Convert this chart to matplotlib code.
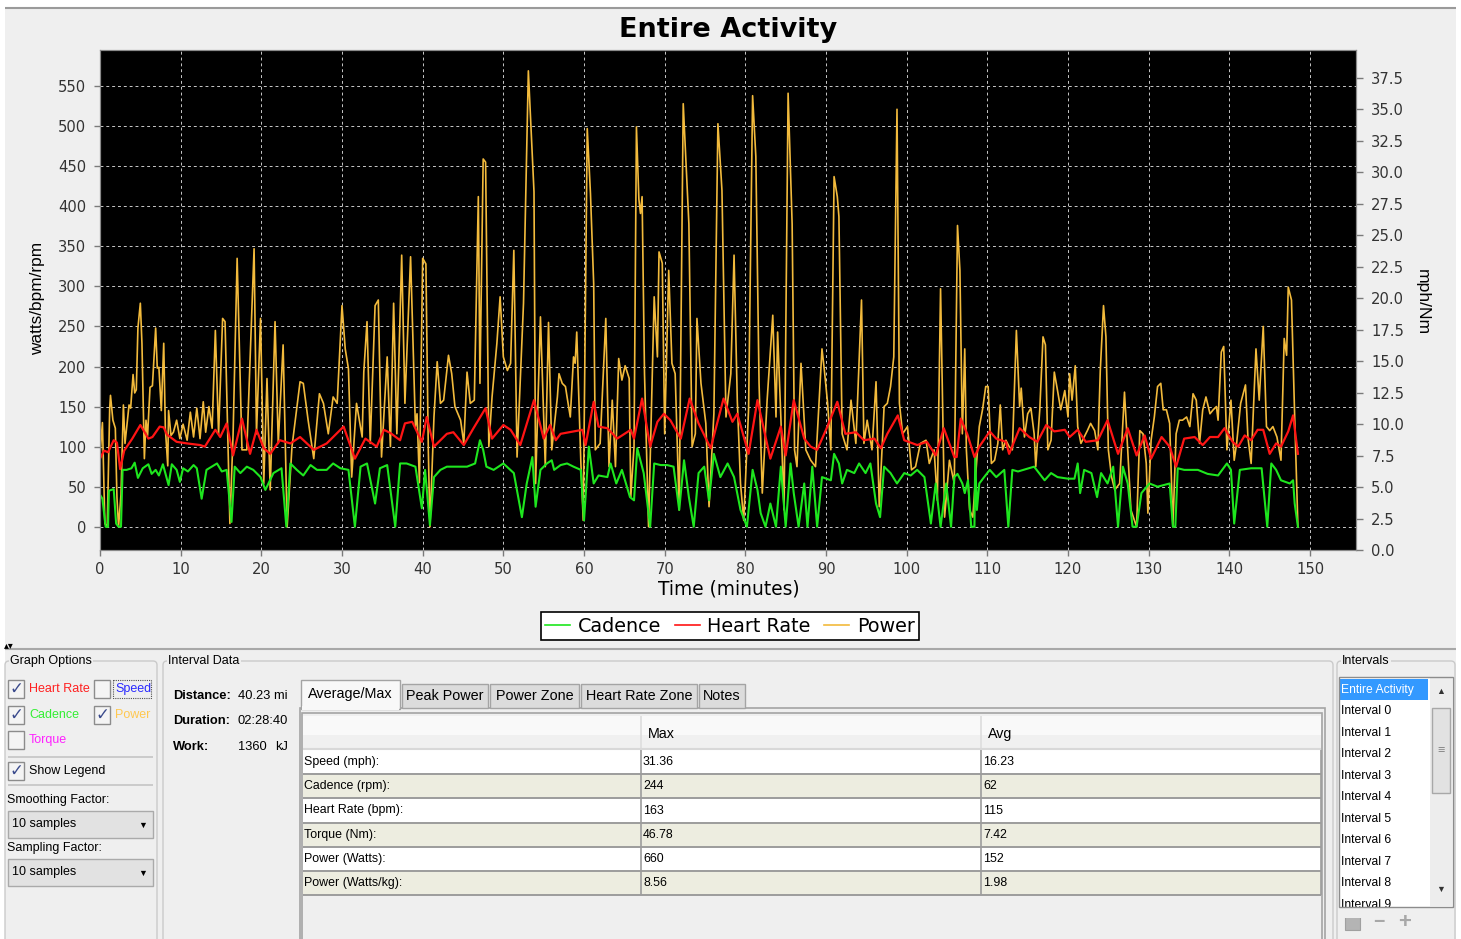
import matplotlib
matplotlib.use('Agg')
import matplotlib.pyplot as plt
from matplotlib.patches import Rectangle, FancyBboxPatch
import numpy as np

# ---------------- data ----------------
power_t = [0.0,0.3,0.6,0.9,1.2,1.3,1.6,1.9,2.1,2.3,2.6,2.9,3.1,3.4,3.6,3.8,4.1,4.3,4.5,4.7,5.0,5.2,5.5,5.7,5.9,6.2,6.5,6.9,7.1,7.3,7.6,7.9,8.1,8.4,8.5,8.8,9.1,9.5,9.9,10.3,10.8,11.2,11.6,12.0,12.4,12.8,13.1,13.5,13.9,
           14.3,14.7,15.2,15.5,16.1,16.5,17.0,17.6,18.2,19.1,19.4,19.9,20.3,20.7,21.1,21.7,22.1,22.7,23.2,23.8,24.8,25.2,25.8,26.5,27.2,27.7,28.3,28.9,29.4,30.0,30.4,30.8,31.2,31.8,32.5,32.7,33.1,33.5,34.1,34.5,34.9,35.6,36.0,36.4,36.8,37.4,37.8,38.5,39.1,39.3,39.6,40.0,40.4,40.7,40.9,41.4,41.8,42.2,42.6,43.2,43.6,44.0,44.7,45.1,45.5,45.9,46.4,46.9,47.1,47.5,47.8,48.2,48.6,49.2,49.6,50.0,50.5,50.9,51.3,51.7,52.5,53.1,53.8,54.0,54.6,55.2,55.6,
           56.0,56.7,56.9,57.3,57.7,57.9,58.3,58.7,58.9,59.1,59.6,59.9,60.4,60.8,61.2,61.4,62.0,62.7,63.1,63.5,63.9,64.3,64.7,65.1,65.6,65.8,66.2,66.5,66.8,67.0,67.2,67.5,68.0,68.7,69.1,69.3,69.7,70.0,70.5,70.9,71.3,71.8,72.3,73.0,73.4,73.8,74.0,74.5,75.1,75.5,76.1,76.6,77.1,77.6,78.2,78.6,79.0,79.4,79.8,80.4,80.9,81.3,81.7,82.1,82.7,83.4,83.8,84.0,84.4,84.8,85.3,85.8,86.1,86.4,86.9,87.5,88.1,88.7,89.5,89.8,90.2,90.6,91.0,91.4,91.6,92.0,92.6,93.1,93.7,94.4,94.7,95.1,95.7,96.2,96.6,97.2,97.6,98.0,98.4,98.8,99.1,99.5,100.1,100.6,101.1,101.7,102.4,102.8,103.4,103.8,104.2,104.7,105.3,105.9,
           106.3,106.6,106.9,107.2,107.4,107.8,108.2,108.6,109.0,109.4,109.8,110.1,110.5,110.9,111.3,111.6,111.9,112.3,112.7,113.1,113.6,114.0,114.2,114.6,115.0,115.4,115.8,116.0,116.5,116.9,117.2,117.5,117.9,118.3,118.7,119.1,119.6,120.0,120.2,120.5,120.9,121.2,121.6,122.0,122.4,122.8,123.3,123.7,124.0,124.4,124.7,125.0,125.4,125.8,126.4,127.0,127.4,127.8,128.5,128.9,129.3,129.7,129.9,130.3,130.7,131.1,131.5,131.8,132.2,132.6,133.0,133.4,133.8,134.2,134.7,135.1,135.5,135.9,136.3,136.7,137.1,137.6,138.0,138.4,138.6,139.0,139.3,139.7,140.2,140.6,140.9,141.4,142.0,142.3,142.7,143.3,143.7,144.2,144.6,145.0,145.4,145.9,146.4,146.8,147.1,147.3,147.7,148.1,148.5]
power_w = [90,130,4,0,147,164,133,123,37,0,40,152,104,133,152,148,190,167,171,248,279,229,85,133,114,174,176,248,198,199,145,229,123,76,145,114,118,133,110,128,108,143,112,148,110,156,118,150,123,
           245,116,260,256,4,116,335,96,96,347,116,260,54,185,46,256,104,227,0,100,181,179,133,85,166,154,116,162,154,276,222,197,62,154,112,193,256,104,276,283,87,212,100,279,116,339,154,337,125,141,55,335,328,96,0,137,206,154,158,214,191,150,133,104,193,154,158,412,179,459,455,100,162,229,287,212,195,204,345,87,279,569,418,54,262,75,255,
           96,162,191,179,175,162,137,212,204,243,83,8,497,416,303,96,104,260,75,158,75,210,183,201,185,37,100,499,409,391,412,191,0,287,212,343,329,116,320,204,191,21,528,378,100,116,260,179,129,25,141,503,420,137,191,339,158,54,8,146,538,462,179,42,158,264,137,243,137,21,541,378,96,75,204,96,83,75,222,195,154,96,437,412,387,116,96,158,104,283,104,133,96,181,25,150,154,175,212,521,154,116,125,71,75,104,108,79,96,33,297,12,83,54,
           376,320,116,222,96,21,12,71,125,146,175,175,79,83,104,152,96,108,100,96,245,150,173,112,141,148,116,75,146,237,227,96,108,193,170,146,170,137,191,158,201,125,104,112,120,129,120,96,195,276,237,96,62,46,54,168,96,21,0,120,116,79,17,108,137,175,179,146,146,129,0,116,133,133,137,125,166,158,104,146,162,141,146,150,133,218,225,96,158,83,104,154,177,112,79,222,158,250,125,120,125,112,83,235,214,299,283,137,0]

hr_t = [0,0.5,1.0,1.7,2.1,2.5,3.0,4.0,5.0,5.3,6.0,6.5,7.4,7.9,8.3,8.7,9.5,10.8,12.4,13.0,14.3,14.9,15.7,16.5,17.6,18.6,19.4,20.3,21.1,22.3,23.6,24.8,26.5,28.1,28.9,30.2,31.6,32.9,34.3,35.2,36.0,37.2,37.8,38.7,39.9,40.5,41.4,43.0,43.8,45.1,46.3,47.8,48.6,50.0,50.9,52.1,53.8,55.0,55.8,56.5,57.1,58.7,59.8,60.2,61.2,61.8,62.9,64.1,65.8,66.2,67.2,68.2,69.1,69.9,70.7,72.0,73.1,74.2,75.7,77.3,78.4,79.0,80.4,81.5,83.1,84.4,85.0,86.0,87.3,88.1,88.9,90.0,91.4,92.4,93.7,94.7,96.0,96.8,97.6,98.9,99.7,101.3,102.5,103.6,104.6,105.9,106.2,106.7,107.5,108.4,109.0,110.3,111.1,112.3,112.7,114.0,115.2,116.2,117.3,118.3,119.6,120.2,121.2,122.2,123.7,124.9,126.2,127.4,128.5,129.5,130.3,131.6,132.6,133.4,134.4,135.7,136.7,137.6,138.6,139.4,140.4,141.1,141.9,142.7,143.5,144.2,145.0,145.8,146.4,147.3,147.9,148.5]
hr_bpm = [85,95,93,108,105,72,95,110,127,122,110,112,125,124,115,112,106,104,102,100,121,112,129,89,135,91,121,98,91,108,104,112,96,104,112,125,85,110,100,121,117,108,129,131,106,137,100,116,118,102,123,148,110,127,121,102,158,110,127,108,116,119,121,102,156,125,123,110,121,110,160,100,131,141,133,110,160,129,98,160,131,141,91,158,85,125,89,158,110,100,96,121,156,116,118,108,110,98,116,139,108,102,106,89,123,87,87,135,116,87,100,119,110,106,91,123,112,106,127,119,121,112,121,106,108,133,91,123,89,114,85,112,100,75,110,112,102,112,112,123,106,100,114,108,121,121,91,104,100,119,139,91]

cad_t = [0,0.3,0.7,1.0,1.1,1.7,2.0,2.3,2.6,2.8,3.3,3.9,4.3,4.7,5.3,6.0,6.4,6.9,7.3,7.8,8.5,8.9,9.5,9.9,10.3,10.9,11.6,12.0,12.6,13.2,14.5,15.1,15.7,16.3,16.7,17.4,18.2,19.0,19.9,20.5,21.5,22.5,23.1,23.6,24.4,25.2,26.1,26.9,28.1,28.9,29.8,30.8,31.6,32.3,33.1,34.1,34.7,35.6,36.6,37.2,38.0,39.1,39.9,40.3,40.9,41.4,42.2,43.0,43.8,44.7,45.5,46.5,47.1,47.5,47.9,48.8,50.0,51.3,52.3,52.9,53.6,54.0,54.6,55.4,56.0,56.3,57.1,57.9,58.7,59.6,60.0,60.6,61.2,61.8,62.9,63.3,64.0,64.7,65.7,66.2,66.6,67.4,68.2,68.7,69.5,70.3,71.1,71.8,72.4,73.0,73.6,74.2,74.9,75.5,76.1,76.9,77.8,78.6,79.4,80.2,80.9,81.5,81.9,82.5,83.1,83.8,84.4,85.0,85.6,86.0,86.6,87.3,87.7,88.3,88.9,89.5,90.6,91.0,91.6,92.0,92.6,93.5,94.1,94.9,95.5,96.2,96.7,97.2,98.0,98.8,99.7,100.5,101.3,102.2,103.0,103.6,104.2,104.9,105.5,105.9,106.3,106.9,107.2,107.6,108.0,108.4,108.5,108.7,109.0,109.6,110.3,111.1,112.1,112.6,113.1,113.8,115.8,117.1,117.9,118.7,120.0,120.8,121.2,121.5,122.0,122.9,123.6,124.1,124.9,125.6,126.2,126.8,127.4,128.0,128.5,129.1,130.1,131.1,132.6,133.0,133.3,133.6,134.4,136.1,137.3,138.6,139.7,140.2,140.6,141.3,142.7,144.0,144.7,145.2,145.8,146.4,147.5,147.9,148.1,148.5]
cad_rpm = [40,35,0,0,45,47,4,0,0,71,71,73,80,61,73,78,66,71,64,78,52,78,71,56,73,69,77,73,35,71,79,69,71,6,75,67,75,71,62,46,67,73,0,79,71,64,77,71,71,79,73,71,0,75,79,29,73,77,0,79,79,75,23,71,2,62,71,75,75,75,75,79,108,96,75,71,79,67,12,54,87,25,71,79,83,71,77,79,75,71,8,100,54,64,62,79,54,71,37,33,98,67,0,79,77,77,75,21,83,37,0,67,75,33,91,62,79,62,21,0,71,46,17,0,29,0,75,0,79,42,0,54,0,75,0,62,58,91,79,54,71,67,79,67,79,29,12,75,67,54,67,64,71,62,4,54,0,54,0,62,66,54,42,58,0,0,87,21,54,62,71,62,71,0,71,69,75,58,67,62,60,60,79,42,71,67,37,67,54,75,0,75,54,0,0,42,54,50,54,0,0,73,71,71,66,64,79,71,4,71,73,73,0,79,71,58,54,58,29,0]

x_ticks = list(range(0, 151, 10))
left_ticks = list(range(0, 551, 50))
right_ticks = [0.0, 2.5, 5.0, 7.5, 10.0, 12.5, 15.0, 17.5, 20.0, 22.5, 25.0, 27.5, 30.0, 32.5, 35.0, 37.5]

table_rows = ["Speed (mph):", "Cadence (rpm):", "Heart Rate (bpm):", "Torque (Nm):", "Power (Watts):", "Power (Watts/kg):"]
table_max = ["31.36", "244", "163", "46.78", "660", "8.56"]
table_avg = ["16.23", "62", "115", "7.42", "152", "1.98"]
tabs = ["Average/Max", "Peak Power", "Power Zone", "Heart Rate Zone", "Notes"]
intervals = ["Entire Activity"] + ["Interval %d" % i for i in range(10)]

# ---------------- figure ----------------
W, H = 1461, 939
fig = plt.figure(figsize=(W / 100, H / 100), dpi=100)
fig.patch.set_facecolor('white')

GF = ['Liberation Sans', 'DejaVu Sans']
BG = '#EFEFEF'

gui = fig.add_axes([0, 0, 1, 1])
gui.set_xlim(0, W)
gui.set_ylim(H, 0)
gui.axis('off')


def rect(x0, y0, x1, y1, fc, ec='none', lw=1.0, z=1, **kw):
    gui.add_patch(Rectangle((x0, y0), x1 - x0, y1 - y0, facecolor=fc, edgecolor=ec,
                            linewidth=lw, zorder=z, **kw))


def txt(x, y, s, color='black', size=9, ha='left', weight='normal', z=5, **kw):
    gui.text(x, y, s, color=color, fontsize=size, ha=ha, va='center', fontweight=weight,
             family=GF, zorder=z, **kw)


def hline(x0, x1, y, color='#A0A0A0', lw=1.0, z=3):
    gui.plot([x0, x1], [y, y], color=color, lw=lw, zorder=z, solid_capstyle='butt')


def vline(x, y0, y1, color='#A0A0A0', lw=1.0, z=3):
    gui.plot([x, x], [y0, y1], color=color, lw=lw, zorder=z, solid_capstyle='butt')


rect(5, 8, 1456, 939, BG, z=0)
hline(5, 1456, 7.5, color='#9A9A9A', lw=1.5)

# ---------------- main chart ----------------
ax = fig.add_axes([100 / W, (H - 550) / H, 1256 / W, 500 / H])
ax.set_facecolor('black')
ax.set_xlim(0, 155.7)
ax.set_ylim(-29, 595)
ax.set_axisbelow(True)
ax.grid(True, color='#C8C8C8', linestyle=(0, (3, 3)), linewidth=0.7)

lp, = ax.plot(power_t, power_w, color='#F2BA3C', lw=1.2, label='Power', zorder=3)
lc, = ax.plot(cad_t, cad_rpm, color='#1EE61E', lw=1.5, label='Cadence', zorder=4)
lh, = ax.plot(hr_t, hr_bpm, color='#FF1414', lw=1.6, label='Heart Rate', zorder=5)

ax.set_xticks(x_ticks)
ax.set_yticks(left_ticks)
for sp in ax.spines.values():
    sp.set_color('#8A8A8A')
ax.tick_params(axis='both', colors='#7A7A7A', labelcolor='#333333', labelsize=10.6,
               length=4, width=1)
ax.tick_params(axis='x', pad=5)
ax.tick_params(axis='y', pad=6)

ax2 = ax.twinx()
ax2.set_ylim(0, 39.7)
ax2.set_yticks(right_ticks)
ax2.set_yticklabels(['%.1f' % v for v in right_ticks])
for sp in ax2.spines.values():
    sp.set_color('#8A8A8A')
ax2.tick_params(axis='y', colors='#7A7A7A', labelcolor='#333333', labelsize=10.6,
                length=5, width=1, pad=6)

ax.set_title('Entire Activity', fontsize=19.5, fontweight='bold', pad=9.5, color='black')
ax.set_xlabel('Time (minutes)', fontsize=13.4, va='center')
ax.xaxis.set_label_coords((729 - 100) / 1256, -(589 - 550) / 500)
ax.set_ylabel('watts/bpm/rpm', fontsize=12.4, va='center', family=GF)
ax.yaxis.set_label_coords((38 - 100) / 1256, (550 - 298) / 500)
ax2.set_ylabel('mph/Nm', fontsize=12.6, rotation=270, va='center', family=GF)
ax2.yaxis.set_label_coords((1422 - 100) / 1256, (550 - 302) / 500)

leg = fig.legend(handles=[lc, lh, lp], labels=['Cadence', 'Heart Rate', 'Power'],
                 loc='center', bbox_to_anchor=(730 / W, 1 - 626 / H), ncol=3,
                 frameon=True, fancybox=False, edgecolor='black', facecolor='white',
                 framealpha=1, fontsize=13.8, handlelength=1.3, handletextpad=0.4,
                 columnspacing=0.7, borderpad=0.25, borderaxespad=0)
leg.get_frame().set_linewidth(1.2)
for ln in leg.get_lines():
    ln.set_linewidth(1.2)

# ---------------- bottom panel ----------------
hline(5, 1456, 648.5, color='#A8A8A8', lw=1.5)
txt(4, 645, '\u25b4\u25be', size=7)


def group(x0, x1, title):
    gui.add_patch(FancyBboxPatch((x0, 661), x1 - x0, 300, boxstyle='round,pad=0,rounding_size=4',
                                 facecolor='none', edgecolor='#CACACA', lw=1.0, zorder=2))
    txt(x0 + 5, 661, title, size=9, bbox=dict(facecolor=BG, edgecolor='none', pad=1.0))


group(5, 157, 'Graph Options')
group(163, 1333, 'Interval Data')
group(1337, 1455, 'Intervals')


def checkbox(x, y, checked):
    rect(x, y - 9, x + 16, y + 9, '#F4F4F4', ec='#8C8C8C', lw=1.0, z=3)
    if checked:
        gui.text(x + 8, y, '\u2713', fontsize=12, color='#3A4A8C', ha='center', va='center',
                 fontweight='bold', family=['DejaVu Sans'], zorder=4)


checkbox(8, 689, True)
txt(29, 689, 'Heart Rate', color='#FF2020')
checkbox(94, 689, False)
txt(115, 689, 'Speed', color='#2A2AFF')
rect(113, 680, 151, 698, 'none', ec='#505050', lw=0.8, z=4, linestyle=(0, (1, 1)))
checkbox(8, 715, True)
txt(29, 715, 'Cadence', color='#33EE33')
checkbox(94, 715, True)
txt(115, 715, 'Power', color='#FFC850')
checkbox(8, 740, False)
txt(29, 740, 'Torque', color='#FF22FF')
hline(8, 153, 757, color='#C4C4C4', lw=1.2)
checkbox(8, 771, True)
txt(29, 771, 'Show Legend')
hline(8, 153, 785, color='#C4C4C4', lw=1.2)

txt(7, 800, 'Smoothing Factor:')
rect(8, 811, 153, 838, '#E2E2E2', ec='#AAAAAA', lw=1.0, z=3)
txt(12, 824.5, '10 samples')
txt(143, 825, '\u25bc', size=6.5, ha='center')
txt(7, 848, 'Sampling Factor:')
rect(8, 859, 153, 886, '#E2E2E2', ec='#AAAAAA', lw=1.0, z=3)
txt(12, 872.5, '10 samples')
txt(143, 873, '\u25bc', size=6.5, ha='center')

# interval data summary
txt(173, 696, 'Distance:', weight='bold', size=9.3)
txt(238, 696, '40.23 mi', size=9.3)
txt(173, 721, 'Duration:', weight='bold', size=9.3)
txt(238, 721, '02:28:40', size=9.3)
txt(173, 747, 'Work:', weight='bold', size=9.3)
txt(238, 747, '1360', size=9.3)
txt(275, 747, 'kJ', size=9.3)

# tabs
rect(300, 708, 1325, 945, BG, ec='#A4A4A4', lw=1.2, z=2)
tab_x = [(301, 400), (402, 488), (490, 579), (581, 697), (699, 745)]
for i, (name, (x0, x1)) in enumerate(zip(tabs, tab_x)):
    if i == 0:
        rect(x0, 680, x1, 709, '#F8F8F8', ec='#A4A4A4', lw=1.0, z=3)
        rect(x0 + 1, 706, x1 - 1, 710, '#F8F8F8', z=3.5)
        txt((x0 + x1) / 2, 694, name, size=10.4, ha='center')
    else:
        rect(x0, 684, x1, 708, '#DCDCDC', ec='#A4A4A4', lw=1.0, z=3)
        txt((x0 + x1) / 2, 696, name, size=10.4, ha='center')

# table
rect(302, 713, 1322, 940, BG, ec='#A4A4A4', lw=1.2, z=3)
rect(303, 716, 1321, 748, '#F9F9F9', ec='none', z=3.2)
rect(303, 735, 1321, 748, '#F0F0F0', ec='none', z=3.2)
hline(303, 1321, 748.5, color='#D8D8D8', lw=1.5, z=3.4)
vline(641, 716, 748, color='#DDDDDD', lw=1.2, z=3.4)
vline(981, 716, 748, color='#DDDDDD', lw=1.2, z=3.4)
txt(648, 734, 'Max', size=10.3)
txt(988, 734, 'Avg', size=10.3)
row_edges = [750, 774, 798, 823, 847, 871, 895]
for i, (lab, mx, av) in enumerate(zip(table_rows, table_max, table_avg)):
    y0, y1 = row_edges[i], row_edges[i + 1]
    fc = 'white' if i % 2 == 0 else '#EDEDE0'
    rect(303, y0, 1321, y1, fc, ec='none', z=3.2)
    yc = (y0 + y1) / 2
    txt(304, yc, lab, size=8.9)
    txt(643, yc, mx, size=8.9)
    txt(983, yc, av, size=8.9)
for ye in row_edges[1:]:
    hline(303, 1321, ye, color='#9C9C9C', lw=1.4, z=3.5)
vline(641, 750, 895, color='#9C9C9C', lw=1.2, z=3.5)
vline(981, 750, 895, color='#9C9C9C', lw=1.2, z=3.5)
vline(1321, 750, 895, color='#9C9C9C', lw=1.2, z=3.5)

# intervals list
rect(1339, 677, 1453, 907, 'white', ec='none', z=3)
rect(1340, 679, 1428, 700, '#3399FF', z=3.2)
for k, name in enumerate(intervals):
    y = 689.5 + 21.55 * k
    txt(1341, y, name, size=8.7, color='white' if k == 0 else 'black', z=4)
rect(1339, 907, 1452, 918, BG, z=4.5)
rect(1339, 677, 1453, 907, 'none', ec='#8C8C8C', lw=1.0, z=5)
rect(1430, 678, 1452, 906, '#EDEDED', z=4.6)
txt(1441, 691, '\u25b2', size=6.5, ha='center', color='#333333', z=5)
rect(1432, 708, 1450, 793, '#E2E2E2', ec='#A8A8A8', lw=1.0, z=4.8)
txt(1441, 751, '\u2261', size=9, ha='center', color='#888888', z=5)
txt(1441, 889, '\u25bc', size=6.5, ha='center', color='#333333', z=5)
rect(1345, 914, 1360, 930, '#B4B4B4', ec='#A0A0A0', lw=0.8, z=4)
txt(1379, 922, '\u2212', size=14, ha='center', color='#A8A8A8', weight='bold')
txt(1405, 922, '+', size=16, ha='center', color='#A8A8A8', weight='bold')

fig.savefig('out.png', dpi=100, facecolor=fig.get_facecolor())
